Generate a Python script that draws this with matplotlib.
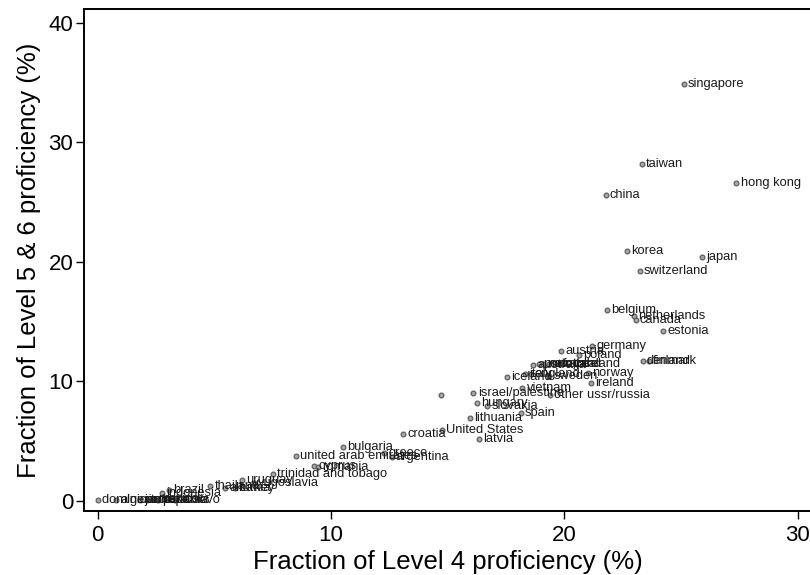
import matplotlib
matplotlib.use("Agg")
import matplotlib.pyplot as plt

# share of students at level 4 and at level 5&6 (%)
names = ["singapore", "taiwan", "hong kong", "china", "korea", "japan",
         "switzerland", "belgium", "netherlands", "canada", "estonia",
         "germany", "austria", "poland", "denmark", "finland",
         "australia", "portugal", "new zealand", "scotland", "france",
         "iceland", "italy", "england", "sweden", "norway", "ireland",
         "vietnam", "other ussr/russia", "israel/palestine", "",
         "hungary", "slovakia", "lithuania", "spain", "United States",
         "croatia", "latvia", "bulgaria", "united arab emirates", "greece",
         "argentina", "cyprus", "romania", "trinidad and tobago", "uruguay",
         "yugoslavia", "thailand", "albania", "turkey", "brazil",
         "indonesia", "dominican republic", "algeria", "jordan", "tunisia",
         "panama", "mexico", "kosovo"]
lvl4 = [25.12, 23.30, 27.37, 21.77, 22.69, 25.90,
        23.23, 21.82, 22.97, 23.05, 24.23,
        21.20, 19.87, 20.63, 23.35, 23.62,
        18.66, 18.90, 19.10, 19.35, 19.75,
        17.52, 18.30, 18.55, 19.34, 21.02, 21.12,
        18.20, 19.37, 16.10, 14.71,
        16.23, 16.69, 15.93, 18.12, 14.74,
        13.09, 16.35, 10.52, 8.49, 12.27,
        12.59, 9.26, 9.42, 7.51, 6.20,
        6.70, 4.83, 5.45, 5.90, 3.06,
        2.77, 0.00, 0.80, 1.80, 2.10,
        2.60, 2.40, 3.30]
lvl56 = [34.87, 28.17, 26.55, 25.60, 20.91, 20.36,
         19.24, 15.95, 15.45, 15.11, 14.22,
         12.96, 12.52, 12.18, 11.70, 11.70,
         11.35, 11.42, 11.42, 11.40, 11.45,
         10.31, 10.60, 10.62, 10.40, 10.65, 9.87,
         9.45, 8.85, 9.03, 8.83,
         8.19, 7.91, 6.94, 7.30, 5.90,
         5.57, 5.15, 4.45, 3.75, 3.95,
         3.62, 2.92, 2.85, 2.19, 1.72,
         1.50, 1.24, 1.10, 1.08, 0.88,
         0.66, 0.02, 0.05, 0.05, 0.08,
         0.05, 0.10, 0.03]

plt.rcParams['font.family'] = ['Liberation Sans', 'DejaVu Sans']

fig = plt.figure(figsize=(8.1, 5.75), dpi=100)
ax = fig.add_axes([0.104, 0.111, 0.898, 0.8725])

ax.plot(lvl4, lvl56, 'o', ms=3.4, mfc='#a8a8a8', mec='#5e5e5e', mew=0.9,
        ls='none', zorder=3)
for n, x, y in zip(names, lvl4, lvl56):
    if n:
        ax.annotate(n, (x, y), xytext=(3, 0), textcoords='offset points',
                    ha='left', va='center', fontsize=9.3, color='#1a1a1a')

ax.set_xlim(-0.58, 30.59)
ax.set_ylim(-0.88, 41.1)
ax.set_xticks([0, 10, 20, 30])
ax.set_yticks([0, 10, 20, 30, 40])
ax.tick_params(direction='out', length=6, width=1, labelsize=16)
ax.tick_params(axis='y', pad=2)
ax.tick_params(axis='x', pad=4)
for s in ax.spines.values():
    s.set_linewidth(1.4)
ax.set_xlabel('Fraction of Level 4 proficiency (%)', fontsize=18.5, labelpad=3)
ax.set_ylabel('Fraction of Level 5 & 6 proficiency (%)', fontsize=18.5, labelpad=5)

fig.savefig('out.png', dpi=100)
